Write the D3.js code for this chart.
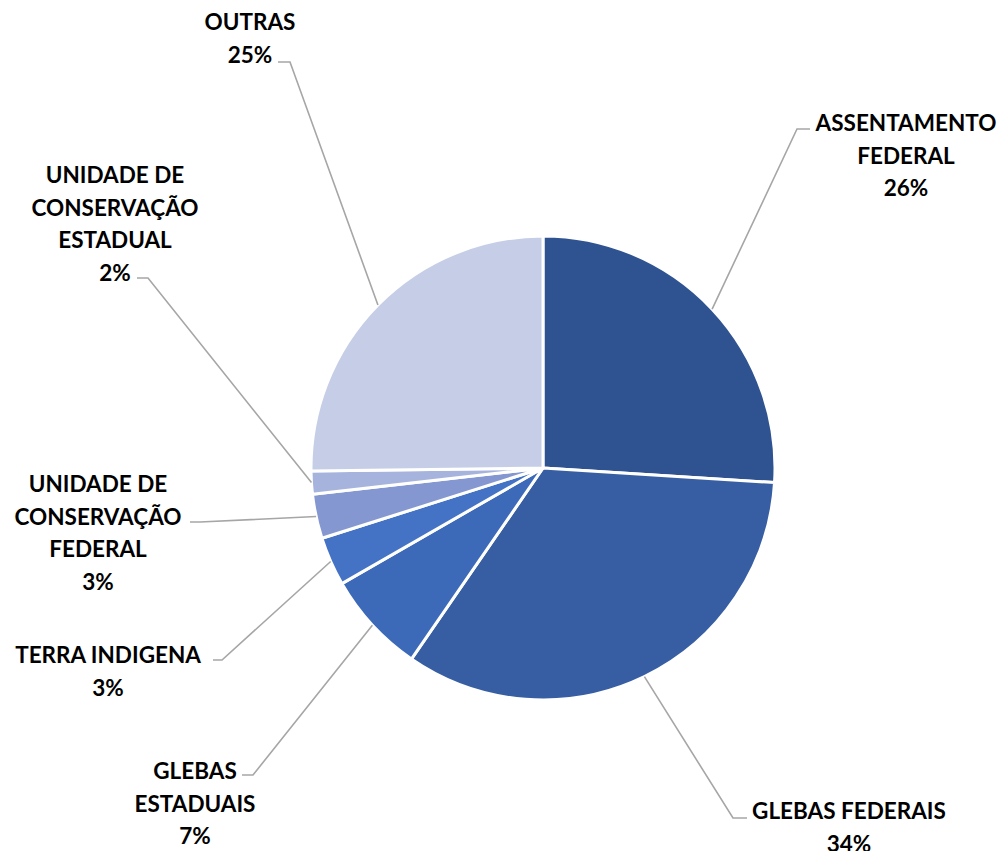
<!DOCTYPE html>
<html>
<head>
<meta charset="utf-8">
<script src="https://cdn.jsdelivr.net/npm/d3@7"></script>
<style>
  html, body { margin: 0; padding: 0; background: #fff; }
  svg text { font-family: Lato, "Open Sans", sans-serif; font-weight: 700; fill: #000; }
</style>
</head>
<body>
<div id="chart"></div>
<script>
// data, clockwise from 12 o'clock
const categories = ["ASSENTAMENTO FEDERAL", "GLEBAS FEDERAIS", "GLEBAS ESTADUAIS", "TERRA INDIGENA",
  "UNIDADE DE CONSERVAÇÃO FEDERAL", "UNIDADE DE CONSERVAÇÃO ESTADUAL", "OUTRAS"];
const values = [26.0, 33.6, 7.1, 3.4, 3.1, 1.6, 25.2];
const labelLines = [
  ["ASSENTAMENTO", "FEDERAL"],
  ["GLEBAS FEDERAIS"],
  ["GLEBAS", "ESTADUAIS"],
  ["TERRA INDIGENA"],
  ["UNIDADE DE", "CONSERVAÇÃO", "FEDERAL"],
  ["UNIDADE DE", "CONSERVAÇÃO", "ESTADUAL"],
  ["OUTRAS"]
];
const colors = ["#2F5290", "#375EA3", "#3D69B9", "#4472C4", "#8497D0", "#A6B4DD", "#C5CEE6"];

// label layout (text centre x, first line y, leader elbow, leader end)
const labelPos = [
  { x: 906, y: 122, elbow: [797, 129], end: [810, 129] },
  { x: 849, y: 810, elbow: [733, 818], end: [747, 818] },
  { x: 195, y: 770, elbow: [253, 775], end: [242, 775] },
  { x: 108, y: 654, elbow: [222, 660], end: [213, 660] },
  { x: 98,  y: 483, elbow: [200, 522], end: [190, 522] },
  { x: 115, y: 174, elbow: [148, 278], end: [137, 278] },
  { x: 250, y: 21,  elbow: [290, 62],  end: [278, 62] }
];

const width = 1002, height = 851;
const cx = 543, cy = 468, radius = 232;
const lineH = 32.5;

const svg = d3.select("#chart")
  .append("svg")
  .attr("width", width)
  .attr("height", height);

const total = d3.sum(values);
const pct = d3.format(".0%");

const pie = d3.pie().sort(null).value(d => d.value);
const arcs = pie(categories.map((c, i) => ({ name: c, value: values[i], i: i })));

const arc = d3.arc().innerRadius(0).outerRadius(radius);
const edgeArc = d3.arc().innerRadius(radius).outerRadius(radius);

const g = svg.append("g").attr("transform", `translate(${cx},${cy})`);

g.selectAll("path")
  .data(arcs)
  .join("path")
  .attr("d", arc)
  .attr("fill", d => colors[d.data.i])
  .attr("stroke", "#fff")
  .attr("stroke-width", 3)
  .attr("stroke-linejoin", "round");

// leader lines
svg.append("g")
  .attr("fill", "none")
  .attr("stroke", "#A6A6A6")
  .attr("stroke-width", 1.6)
  .selectAll("polyline")
  .data(arcs)
  .join("polyline")
  .attr("points", d => {
    const p = edgeArc.centroid(d);
    const lp = labelPos[d.data.i];
    return [[p[0] + cx, p[1] + cy], lp.elbow, lp.end].map(q => q.join(",")).join(" ");
  });

// labels
const labels = svg.append("g")
  .selectAll("text")
  .data(arcs)
  .join("text")
  .attr("text-anchor", "middle")
  .attr("dominant-baseline", "central")
  .style("font-size", "22.5px");

labels.each(function (d) {
  const lp = labelPos[d.data.i];
  const lines = labelLines[d.data.i].concat([pct(d.data.value / total)]);
  d3.select(this).selectAll("tspan")
    .data(lines)
    .join("tspan")
    .attr("x", lp.x)
    .attr("y", (t, k) => lp.y + k * lineH)
    .text(t => t);
});
</script>
</body>
</html>
